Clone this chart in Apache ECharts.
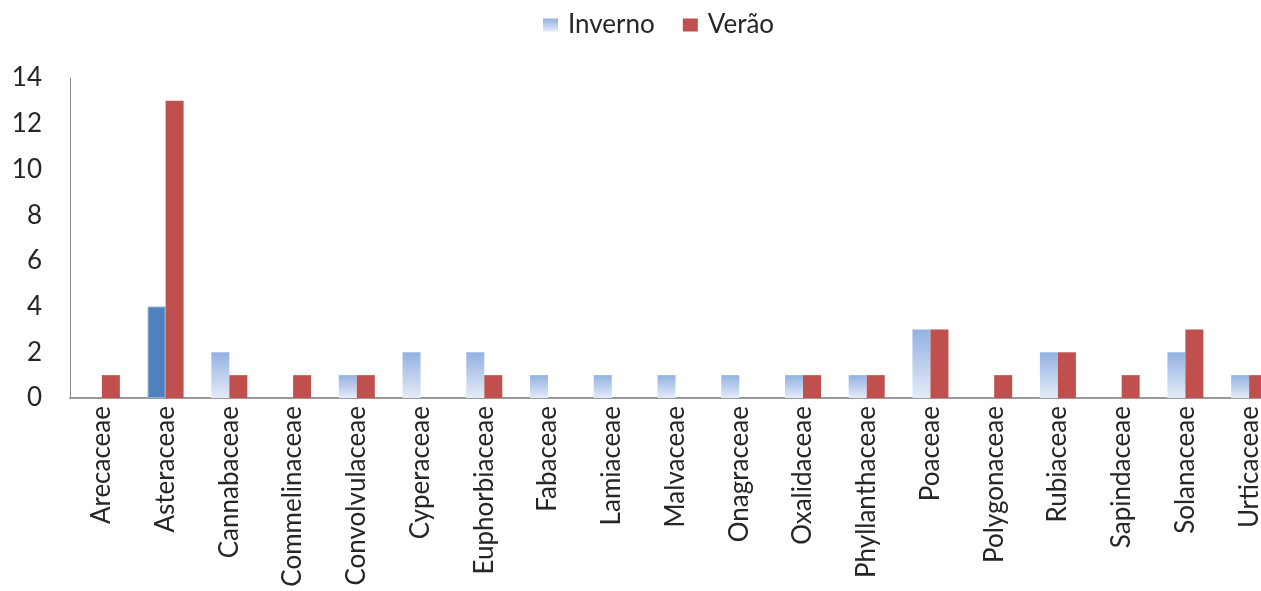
<!DOCTYPE html>
<html>
<head>
<meta charset="utf-8">
<script src="https://cdn.jsdelivr.net/npm/echarts@6/dist/echarts.min.js"></script>
<style>
  html, body { margin: 0; padding: 0; background: #fff; overflow: hidden; }
  #chart { width: 1261px; height: 591px; }
</style>
</head>
<body>
<div id="chart"></div>
<script>
// Plant families and counts per season
const familias = [
  'Arecaceae', 'Asteraceae', 'Cannabaceae', 'Commelinaceae', 'Convolvulaceae',
  'Cyperaceae', 'Euphorbiaceae', 'Fabaceae', 'Lamiaceae', 'Malvaceae',
  'Onagraceae', 'Oxalidaceae', 'Phyllanthaceae', 'Poaceae', 'Polygonaceae',
  'Rubiaceae', 'Sapindaceae', 'Solanaceae', 'Urticaceae'
];
const inverno = [0, 4, 2, 0, 1, 2, 2, 1, 1, 1, 1, 1, 1, 3, 0, 2, 0, 2, 1];
const verao   = [1, 13, 1, 1, 1, 0, 1, 0, 0, 0, 0, 1, 1, 3, 1, 2, 1, 3, 1];
const yTicks  = [0, 2, 4, 6, 8, 10, 12, 14];

const FONT = 'Lato';
const chart = echarts.init(document.getElementById('chart'), null, { renderer: 'canvas' });

const invernoFill = new echarts.graphic.LinearGradient(0, 0, 0, 1, [
  { offset: 0, color: '#93B1E2' },
  { offset: 1, color: '#E4EBF7' }
]);

const invernoData = inverno.map((v, i) => {
  // Asteraceae winter bar is drawn highlighted in solid blue
  if (familias[i] === 'Asteraceae') {
    return { value: v, itemStyle: { color: '#4F81BD', borderColor: '#8FB0DA', borderWidth: 1 } };
  }
  return v;
});

chart.setOption({
  animation: false,
  textStyle: { fontFamily: FONT },
  legend: {
    top: 7,
    left: 538,
    itemWidth: 15,
    itemHeight: 13,
    itemGap: 28,
    icon: 'rect',
    textStyle: { fontSize: 26, color: '#262626', fontFamily: FONT, padding: [0, 0, 0, 5] },
    data: [
      { name: 'Inverno', itemStyle: { color: invernoFill } },
      { name: 'Verão', itemStyle: { color: '#C0504D' } }
    ]
  },
  // the last category runs past the right edge of the canvas
  grid: { left: 70, top: 78, width: 1211, height: 320, containLabel: false, outerBoundsMode: 'none' },
  xAxis: {
    type: 'category',
    data: familias,
    axisLine: { lineStyle: { color: '#9A9A9A', width: 2 } },
    axisTick: { show: false },
    axisLabel: { rotate: 90, fontSize: 26, color: '#262626', margin: 8, fontFamily: FONT, interval: 0 }
  },
  yAxis: {
    type: 'value',
    min: yTicks[0],
    max: yTicks[yTicks.length - 1],
    interval: 2,
    axisLine: { show: true, lineStyle: { color: '#8C8C8C', width: 1 } },
    axisTick: { show: false },
    splitLine: { show: false },
    axisLabel: { fontSize: 26, color: '#262626', margin: 28, fontFamily: FONT }
  },
  series: [
    {
      name: 'Inverno',
      type: 'bar',
      barWidth: 18,
      barGap: '0%',
      itemStyle: { color: invernoFill },
      data: invernoData
    },
    {
      name: 'Verão',
      type: 'bar',
      barWidth: 18,
      barGap: '0%',
      itemStyle: { color: '#C0504D' },
      data: verao
    }
  ]
});
</script>
</body>
</html>
